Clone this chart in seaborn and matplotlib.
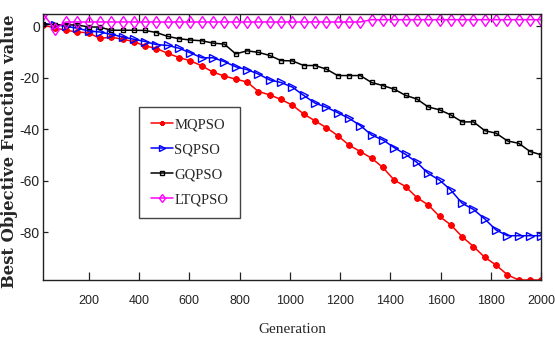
import numpy as np
import pandas as pd
import matplotlib
matplotlib.use('Agg')
import matplotlib.pyplot as plt
import seaborn as sns

# Generation at which each marker is plotted
generation = [20, 65, 110, 155, 200, 245, 290, 335, 380, 425, 470, 515, 560, 605, 650,
              695, 740, 785, 830, 875, 920, 965, 1010, 1055, 1100, 1145, 1190, 1235, 1280, 1325,
              1370, 1415, 1460, 1505, 1550, 1595, 1640, 1685, 1730, 1775, 1820, 1865, 1910, 1955, 2000]

# Best objective function value per method
mqpso = [0.5, -0.6, -1.5, -2.2, -2.5, -4.7, -4.2, -5.0, -5.9, -7.6, -8.6, -10.5, -12.1, -13.4, -15.3,
         -17.8, -19.3, -20.5, -21.6, -25.3, -26.6, -28.4, -30.6, -34.0, -36.7, -39.3, -42.4, -46.1, -48.6, -51.2,
         -54.8, -59.7, -62.2, -66.5, -69.3, -73.8, -77.1, -81.7, -85.5, -89.7, -92.7, -96.5, -98.5, -98.5, -98.5]
sqpso = [1.0, 0.7, 0.0, -0.7, -1.8, -2.2, -3.1, -4.1, -5.0, -5.9, -7.1, -7.4, -8.5, -10.3, -12.2,
         -12.2, -13.7, -15.7, -16.8, -18.5, -20.8, -21.8, -23.6, -26.8, -29.8, -31.4, -33.5, -35.7, -38.5, -42.2,
         -44.1, -47.1, -49.7, -52.8, -57.1, -59.7, -63.6, -68.7, -71.1, -74.8, -79.1, -81.3, -81.3, -81.3, -81.3]
gqpso = [0.9, 0.6, 0.6, 0.5, -0.2, -0.3, -1.5, -1.5, -1.5, -1.6, -2.4, -3.9, -4.8, -5.3, -5.6,
         -6.5, -6.9, -10.7, -9.5, -10.1, -11.3, -13.3, -13.4, -15.2, -15.2, -16.6, -19.1, -19.1, -19.1, -21.8,
         -23.0, -24.4, -26.8, -28.2, -31.3, -32.4, -34.4, -37.1, -37.1, -40.5, -41.5, -44.5, -45.4, -48.6, -49.9]
ltqpso = [4.8, -1.0, 1.7, 1.7, 1.7, 1.7, 1.7, 1.7, 1.7, 1.7, 1.7, 1.7, 1.7, 1.7, 1.7,
          1.7, 1.7, 1.7, 1.7, 1.7, 1.7, 1.7, 1.7, 1.7, 1.7, 1.7, 1.7, 1.7, 1.7, 2.6,
          2.6, 2.6, 2.6, 2.6, 2.6, 2.6, 2.6, 2.6, 2.6, 2.6, 2.6, 2.6, 2.6, 2.6, 2.6]

methods = ['MQPSO', 'SQPSO', 'GQPSO', 'LTQPSO']
x_ticks = [200, 400, 600, 800, 1000, 1200, 1400, 1600, 1800, 2000]
y_ticks = [0, -20, -40, -60, -80]

frames = []
for name, vals in zip(methods, [mqpso, sqpso, gqpso, ltqpso]):
    frames.append(pd.DataFrame({'Generation': generation, 'value': vals, 'method': name}))
df = pd.concat(frames, ignore_index=True)

sns.set_style('white')
plt.rcParams['font.family'] = ['Liberation Sans', 'DejaVu Sans']
plt.rcParams['axes.unicode_minus'] = False

styles = {
    'MQPSO': dict(color='#ff0000', marker=(8, 2, 0), markersize=4.5, markeredgewidth=1.4),
    'SQPSO': dict(color='#0000ff', marker='>', markersize=5.5, markerfacecolor='none', markeredgewidth=1.0),
    'GQPSO': dict(color='#000000', marker='s', markersize=3.2, markerfacecolor='none', markeredgewidth=1.0),
    'LTQPSO': dict(color='#ff00ff', marker='d', markersize=6.5, markerfacecolor='none', markeredgewidth=1.0),
}

fig = plt.figure(figsize=(5.55, 3.39), dpi=100)
ax = fig.add_axes([0.078, 0.174, 0.8975, 0.7847])

for name in methods:
    st = styles[name]
    sns.lineplot(data=df[df['method'] == name], x='Generation', y='value', ax=ax,
                 linewidth=1.1, markeredgecolor=st['color'], label=name, **st)

ax.set_xlim(min(generation), max(generation))
ax.set_ylim(df['value'].min(), df['value'].max())
ax.set_xticks(x_ticks)
ax.set_yticks(y_ticks)

for side in ['left', 'right', 'top', 'bottom']:
    ax.spines[side].set_visible(True)
    ax.spines[side].set_color('#222222')
    ax.spines[side].set_linewidth(1.0)

ax.tick_params(axis='x', direction='in', length=6, width=0.9, top=True, bottom=True,
               pad=11, labelsize=9, colors='#222222')
ax.tick_params(axis='y', direction='in', length=3.5, width=0.9, left=True, right=True,
               pad=2.5, labelsize=10, colors='#222222')

ax.set_xlabel('Generation', family='Liberation Serif', fontsize=11, labelpad=11)
ax.set_ylabel('Best Objective Function value', family='DejaVu Serif', fontsize=11.8,
              fontweight='bold')
ax.yaxis.set_label_coords(-0.05, 0.485)

leg = ax.legend(loc='upper left', bbox_to_anchor=(0.193, 0.652), borderaxespad=0,
                fancybox=False, edgecolor='#444444', framealpha=1,
                prop={'family': 'Liberation Serif', 'size': 10.5},
                handlelength=1.5, handletextpad=0.1, labelspacing=0.8, borderpad=0.8,
                markerscale=0.7)
leg.get_frame().set_linewidth(1.0)

fig.savefig('out.png', dpi=100)
